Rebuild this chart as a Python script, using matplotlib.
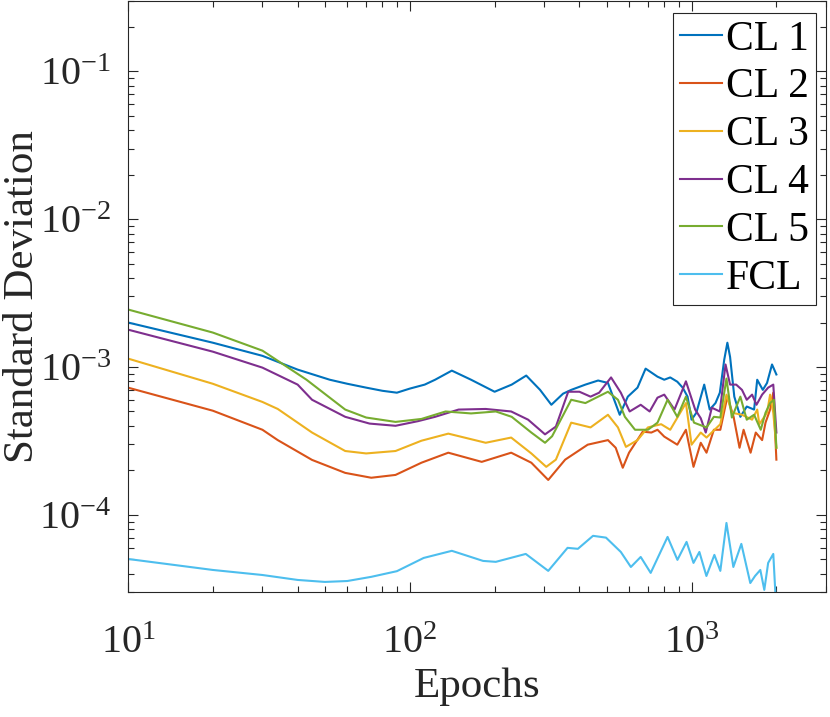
import matplotlib
matplotlib.use('Agg')
import matplotlib.pyplot as plt
from matplotlib.ticker import LogLocator, NullFormatter

plt.rcParams['font.family'] = ['Liberation Serif', 'DejaVu Serif']
plt.rcParams['mathtext.fontset'] = 'custom'
plt.rcParams['mathtext.rm'] = 'Liberation Serif'
plt.rcParams['mathtext.it'] = 'Liberation Serif:italic'
plt.rcParams['axes.unicode_minus'] = False

# values (epochs, std dev)
cl1_epochs = [10, 20, 30, 40, 52, 60, 70, 80, 90, 100, 113, 123, 141, 165, 200,
              230, 259, 290, 318, 350, 374, 420, 466, 505, 556, 594, 643, 687,
              757, 800, 840, 890, 930, 968, 1000, 1040, 1109, 1160, 1216, 1260,
              1306, 1340, 1370, 1418, 1490, 1570, 1667, 1710, 1790, 1853, 1930,
              2000]
cl1_std = [2.0e-3, 1.46e-3, 1.19e-3, 9.6e-4, 8.2e-4, 7.7e-4, 7.25e-4, 6.9e-4,
           6.7e-4, 7.14e-4, 7.6e-4, 8.2e-4, 9.45e-4, 8.2e-4, 6.8e-4, 7.6e-4,
           8.75e-4, 7.0e-4, 5.55e-4, 6.6e-4, 7.0e-4, 7.6e-4, 8.1e-4, 7.8e-4,
           4.75e-4, 6.3e-4, 7.25e-4, 9.75e-4, 8.6e-4, 8.2e-4, 8.5e-4, 7.95e-4,
           7.25e-4, 6.3e-4, 4.4e-4, 4.9e-4, 7.6e-4, 5.15e-4, 5.7e-4, 6.7e-4,
           1.12e-3, 1.46e-3, 1.17e-3, 6.3e-4, 4.6e-4, 5.4e-4, 5.15e-4, 8.2e-4,
           7.0e-4, 7.8e-4, 1.04e-3, 8.9e-4]

cl2_epochs = [10, 20, 30, 34, 45, 59, 73, 89, 110, 137, 180, 229, 270, 310,
              356, 428, 505, 538, 570, 600, 671, 720, 757, 800, 890, 955, 1016,
              1078, 1130, 1200, 1265, 1340, 1410, 1480, 1530, 1620, 1690, 1780,
              1830, 1900, 1950, 2000]
cl2_std = [7.25e-4, 5.06e-4, 3.76e-4, 3.2e-4, 2.35e-4, 1.92e-4, 1.78e-4,
           1.86e-4, 2.25e-4, 2.63e-4, 2.28e-4, 2.63e-4, 2.25e-4, 1.72e-4,
           2.36e-4, 2.98e-4, 3.2e-4, 2.84e-4, 2.08e-4, 2.63e-4, 3.65e-4,
           3.6e-4, 3.76e-4, 3.38e-4, 2.98e-4, 3.76e-4, 2.11e-4, 3.07e-4,
           2.63e-4, 3.76e-4, 3.76e-4, 6.3e-4, 4.6e-4, 2.84e-4, 3.76e-4,
           2.63e-4, 3.6e-4, 3.2e-4, 4.2e-4, 5.15e-4, 6.7e-4, 2.36e-4]

cl3_epochs = [10, 20, 30, 34, 45, 59, 70, 89, 110, 137, 186, 229, 270, 305,
              330, 374, 438, 505, 548, 585, 643, 700, 780, 840, 955, 1000,
              1078, 1130, 1265, 1330, 1390, 1510, 1640, 1710, 1740, 1853, 1900,
              1950, 2000]
cl3_std = [1.14e-3, 7.7e-4, 5.8e-4, 5.2e-4, 3.6e-4, 2.7e-4, 2.6e-4, 2.7e-4,
           3.17e-4, 3.54e-4, 3.07e-4, 3.33e-4, 2.6e-4, 2.11e-4, 2.36e-4,
           4.2e-4, 3.9e-4, 4.75e-4, 3.9e-4, 2.88e-4, 3.2e-4, 3.9e-4, 4.1e-4,
           3.76e-4, 5.7e-4, 2.98e-4, 3.6e-4, 3.33e-4, 4.1e-4, 6.5e-4, 4.9e-4,
           4.75e-4, 4.4e-4, 5.15e-4, 4.1e-4, 4.9e-4, 6.5e-4, 4.9e-4, 2.84e-4]

cl4_epochs = [10, 20, 30, 40, 45, 59, 72, 89, 107, 123, 149, 186, 229, 263,
              302, 330, 365, 400, 438, 470, 518, 561, 603, 660, 710, 757, 800,
              870, 955, 1030, 1078, 1123, 1180, 1260, 1320, 1370, 1440, 1510,
              1570, 1640, 1700, 1780, 1870, 1950, 2000]
cl4_std = [1.79e-3, 1.27e-3, 9.9e-4, 7.6e-4, 6.0e-4, 4.6e-4, 4.14e-4, 4.0e-4,
           4.3e-4, 4.6e-4, 5.15e-4, 5.2e-4, 5.0e-4, 4.4e-4, 3.5e-4, 3.95e-4,
           6.8e-4, 6.8e-4, 6.3e-4, 6.7e-4, 8.5e-4, 6.7e-4, 5.0e-4, 5.55e-4,
           5.0e-4, 6.2e-4, 6.5e-4, 5.15e-4, 8.0e-4, 5.15e-4, 4.5e-4, 3.6e-4,
           5.3e-4, 5.0e-4, 1.04e-3, 7.6e-4, 7.6e-4, 7.0e-4, 6.0e-4, 6.5e-4,
           5.55e-4, 6.5e-4, 7.25e-4, 7.6e-4, 3.6e-4]

cl5_epochs = [10, 20, 30, 43, 59, 70, 89, 110, 134, 165, 202, 230, 270, 302,
              320, 374, 420, 505, 548, 580, 630, 700, 757, 822, 890, 955, 1020,
              1130, 1200, 1265, 1330, 1390, 1490, 1570, 1667, 1760, 1830, 1900,
              1960, 2000]
cl5_std = [2.45e-3, 1.71e-3, 1.29e-3, 8.2e-4, 5.15e-4, 4.55e-4, 4.25e-4,
           4.45e-4, 5.0e-4, 4.85e-4, 5.0e-4, 4.6e-4, 3.6e-4, 3.07e-4, 3.4e-4,
           6.0e-4, 5.7e-4, 6.8e-4, 6.0e-4, 4.6e-4, 3.76e-4, 3.76e-4, 4.2e-4,
           6.0e-4, 4.6e-4, 6.3e-4, 4.2e-4, 3.9e-4, 4.6e-4, 4.55e-4, 8.35e-4,
           4.55e-4, 6.3e-4, 4.4e-4, 4.75e-4, 3.76e-4, 4.9e-4, 5.7e-4, 6.0e-4,
           2.84e-4]

fcl_epochs = [10, 20, 30, 40, 50, 60, 73, 90, 112, 141, 182, 202, 258, 310,
              363, 395, 447, 497, 561, 609, 660, 716, 822, 891, 960, 1016,
              1066, 1129, 1205, 1265, 1330, 1407, 1502, 1616, 1680, 1754, 1812,
              1870, 1950, 2000]
fcl_std = [5.02e-5, 4.23e-5, 3.91e-5, 3.62e-5, 3.51e-5, 3.56e-5, 3.8e-5,
           4.15e-5, 5.1e-5, 5.7e-5, 4.87e-5, 4.8e-5, 5.43e-5, 4.17e-5, 5.97e-5,
           5.88e-5, 7.2e-5, 7.0e-5, 5.6e-5, 4.43e-5, 5.18e-5, 4.04e-5, 7.08e-5,
           4.95e-5, 6.55e-5, 4.72e-5, 5.6e-5, 3.85e-5, 5.35e-5, 4.17e-5, 8.8e-5,
           4.43e-5, 6.35e-5, 3.45e-5, 3.85e-5, 4.23e-5, 3.1e-5, 4.72e-5, 5.43e-5,
           2.2e-5]

labels = ['CL 1', 'CL 2', 'CL 3', 'CL 4', 'CL 5', 'FCL']
colors = ['#0072BD', '#D95319', '#EDB120', '#7E2F8E', '#77AC30', '#4DBEEE']

series = [(cl1_epochs, cl1_std), (cl2_epochs, cl2_std), (cl3_epochs, cl3_std),
          (cl4_epochs, cl4_std), (cl5_epochs, cl5_std), (fcl_epochs, fcl_std)]

fig = plt.figure(figsize=(8.3, 7.17), dpi=100)
axis = fig.add_axes([128 / 830, 1 - 592 / 717, 698 / 830, 591 / 717])

for (ep, sd), lab, col in zip(series, labels, colors):
    axis.plot(ep, sd, color=col, linewidth=1.5, label=lab)

axis.set_xscale('log')
axis.set_yscale('log')
axis.set_xlim(10, 3000)
axis.set_ylim(3e-5, 0.3)

axis.xaxis.set_major_locator(LogLocator(base=10, numticks=10))
axis.yaxis.set_major_locator(LogLocator(base=10, numticks=10))
for ax_ in (axis.xaxis, axis.yaxis):
    ax_.set_minor_locator(LogLocator(base=10, subs=range(2, 10), numticks=20))
    ax_.set_minor_formatter(NullFormatter())

axis.tick_params(which='both', direction='in', top=True, right=True,
                 color='#262626', width=0.8)
axis.tick_params(which='major', length=7, labelsize=29,
                 labelcolor='#262626')
axis.tick_params(axis='x', which='major', pad=24)
axis.tick_params(axis='y', which='major', pad=12)
axis.tick_params(which='minor', length=4)
for sp in axis.spines.values():
    sp.set_color('#262626')
    sp.set_linewidth(0.8)

axis.set_xlabel('Epochs', fontsize=31, color='#262626')
axis.set_ylabel('Standard Deviation', fontsize=31, color='#262626')
axis.xaxis.set_label_coords(0.5, -0.128)
axis.yaxis.set_label_coords(-0.123, 0.5)

leg = axis.legend(loc='upper right', bbox_to_anchor=(0.9857, 0.9797),
                  borderaxespad=0, fontsize=30, fancybox=False,
                  edgecolor='#262626', framealpha=1, handlelength=1.0,
                  handletextpad=0.1, labelspacing=0.225, borderpad=0.17)
leg.get_frame().set_linewidth(0.8)

fig.savefig('out.png', dpi=100)
